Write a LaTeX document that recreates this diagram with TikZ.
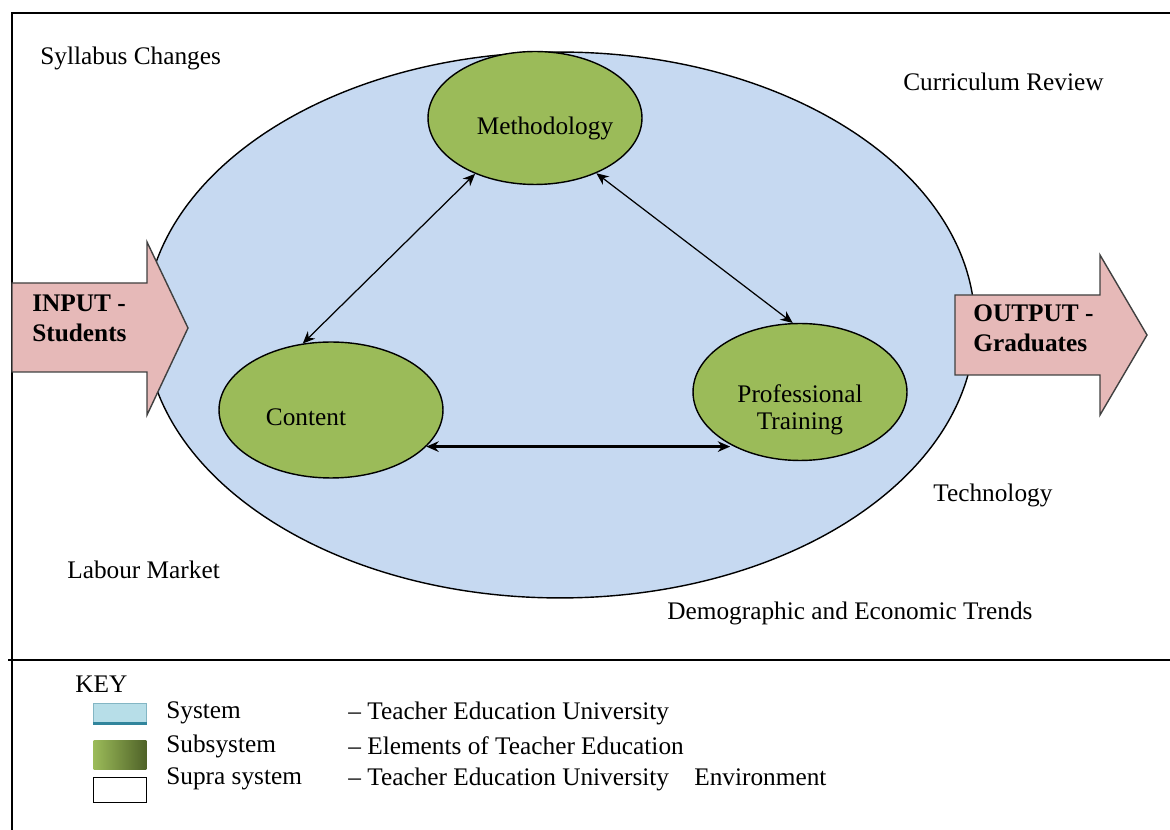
\documentclass[tikz,border=0pt]{standalone}
\usepackage{fontspec}
\setmainfont{Liberation Serif}
\usetikzlibrary{shapes.geometric,arrows.meta}
\definecolor{sysblue}{HTML}{C6D9F1}
\definecolor{subgreen}{HTML}{9BBB59}
\definecolor{darkgreen}{HTML}{4F6228}
\definecolor{iopink}{HTML}{E6B9B8}
\definecolor{keyblue}{HTML}{B7DEE8}
\definecolor{keyedge}{HTML}{31859C}
\tikzset{
	subsys/.style={ellipse,draw,line width=0.8pt,fill=subgreen,inner sep=0pt,minimum height=2.7cm},
	txt/.style={font=\fontsize{14.4}{17}\selectfont,inner sep=0pt},
	lbl/.style={txt,anchor=west},
	iotext/.style={anchor=west,align=left,inner sep=0pt,font=\fontsize{14.4}{17}\selectfont\bfseries},
	iobox/.style={draw=black!75,line width=0.8pt,fill=iopink},
	link/.style={{Stealth[length=7pt,width=6pt]}-{Stealth[length=7pt,width=6pt]},line width=0.7pt},
	keybox/.style={minimum width=1.06cm,inner sep=0pt}
}
\begin{document}
\begin{tikzpicture}[x=0.02cm,y=-0.02cm]
				\useasboundingbox (0,0) rectangle (1170,830);
				\draw[line width=1pt] (1170,13) -- (12,13) -- (12,830);
				\draw[line width=1.5pt] (8,660) -- (1170,660);
				\node[ellipse,draw,line width=0.8pt,fill=sysblue,inner sep=0pt,minimum width=16.6cm,minimum height=10.92cm] (sys) at (560,325) {};
				\node[subsys,minimum width=4.28cm,minimum height=2.66cm] (meth) at (535,118) {};
				\node[subsys,minimum width=4.48cm,minimum height=2.72cm] (cont) at (331,410) {};
				\node[subsys,minimum width=4.28cm,minimum height=2.74cm] (prof) at (800,392) {};
				\node[txt] (meth-t) at (545,128) {Methodology};
				\node[txt] (cont-t) at (306,417) {Content};
				\node[txt,align=center] (prof-t) at (800,410) {Professional\\[-2pt]Training};
				\draw[link] (meth.223) -- (cont.113);
				\draw[link] (meth.-42) -- (prof.96);
				\draw[link,line width=1.4pt] (cont.-21) -- (prof.217 |- cont.-21);
				\draw[iobox] (12,283) -- (147,283) -- (147,242) -- (188,328) -- (147,415) -- (147,372) -- (12,372) -- cycle;
				\draw[iobox] (955,295) -- (1100,295) -- (1100,255) -- (1147,335) -- (1100,415) -- (1100,375) -- (955,375) -- cycle;
				\node[iotext] (input) at (32,318) {INPUT -\\Students};
				\node[iotext] (output) at (973,328) {OUTPUT -\\Graduates};
				\node[lbl] (syll) at (40,58) {Syllabus Changes};
				\node[lbl] (curr) at (903,82) {Curriculum Review};
				\node[lbl] (tech) at (933,495) {Technology};
				\node[lbl] (labour) at (67,570) {Labour Market};
				\node[lbl] (demo) at (667,613) {Demographic and Economic Trends};
				\node[lbl] (key) at (75,684) {KEY};
				\node[keybox,minimum height=0.4cm,fill=keyblue,draw=keyedge!60] (k-sys) at (120,713) {};
				\draw[keyedge,line width=1.5pt] (k-sys.south west) -- (k-sys.south east);
				\node[keybox,minimum height=0.6cm,left color=subgreen,right color=darkgreen] (k-sub) at (120,755) {};
				\node[keybox,minimum height=0.5cm,draw,line width=0.8pt,fill=white] (k-supra) at (120,790) {};
				\node[lbl] (l-sys) at (166,713) {System};
				\node[lbl] (l-sub) at (166,746) {Subsystem};
				\node[lbl] (l-supra) at (166,779) {Supra system};
				\node[lbl] (d-sys) at (348,713) {-- Teacher Education University};
				\node[lbl] (d-sub) at (348,746) {-- Elements of Teacher Education};
				\node[lbl] (d-supra) at (348,779) {-- Teacher Education University\quad Environment};
			\end{tikzpicture}
\end{document}
